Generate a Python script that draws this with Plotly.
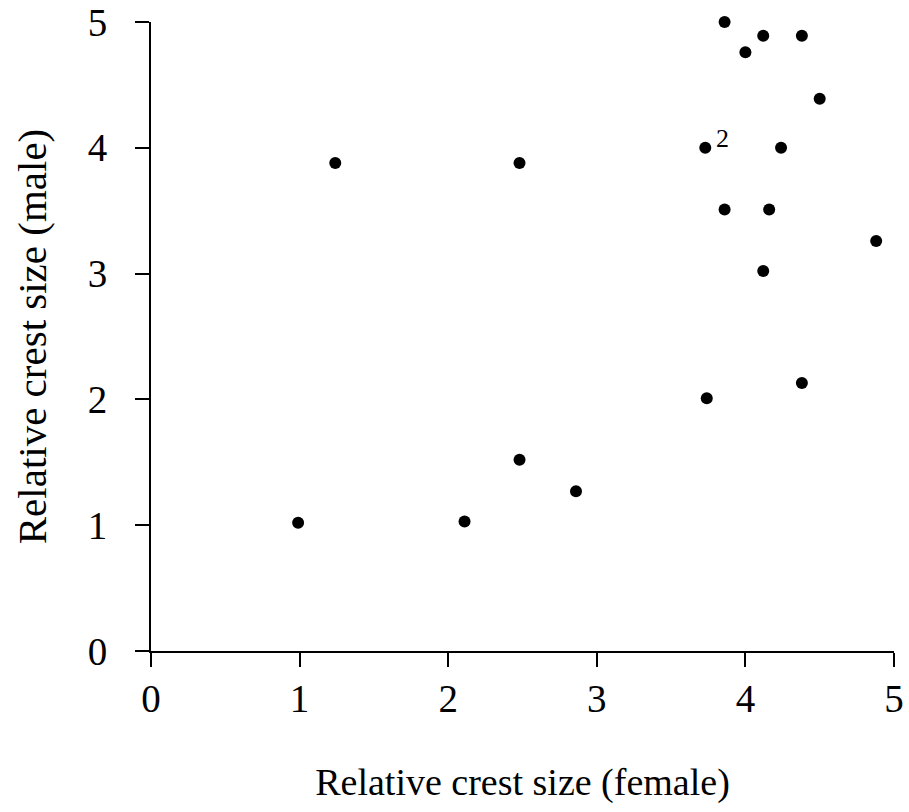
import plotly.graph_objects as go

female = [3.86, 4.12, 4.38, 4.00, 4.50, 3.73, 4.24, 3.86, 4.16, 4.88, 4.12,
          3.74, 4.38, 1.24, 2.48, 0.99, 2.11, 2.48, 2.86]
male = [5.00, 4.89, 4.89, 4.76, 4.39, 4.00, 4.00, 3.51, 3.51, 3.26, 3.02,
        2.01, 2.13, 3.88, 3.88, 1.02, 1.03, 1.52, 1.27]
tick_vals = [0, 1, 2, 3, 4, 5]
label_point = (3.73, 4.00)
label_text = "2"

font_family = "Liberation Serif, Times New Roman, serif"

fig = go.Figure()
fig.add_trace(go.Scatter(
    x=female, y=male, mode="markers",
    marker=dict(color="black", size=12),
    cliponaxis=False, showlegend=False,
))

fig.add_annotation(
    x=label_point[0], y=label_point[1], text=label_text, showarrow=False,
    xshift=17, yshift=9, font=dict(family=font_family, size=26, color="black"),
)

axis_common = dict(
    range=[0, 5], tickvals=tick_vals, showgrid=False, zeroline=False,
    showline=True, linecolor="black", linewidth=2, automargin=False,
    ticks="outside", ticklen=14, tickwidth=2, tickcolor="black",
    tickfont=dict(family=font_family, size=39, color="black"),
)

fig.update_xaxes(**axis_common, title_text="Relative crest size (female)",
                 title_font=dict(family=font_family, size=38, color="black"),
                 title_standoff=50, ticklabelstandoff=-2)
fig.update_yaxes(**axis_common, title_text="Relative crest size (male)",
                 title_font=dict(family=font_family, size=41, color="black"),
                 title_standoff=28, ticklabelstandoff=20)

fig.update_layout(
    width=909, height=812,
    margin=dict(l=151, r=15, t=22, b=161),
    plot_bgcolor="white", paper_bgcolor="white",
    font=dict(family=font_family, color="black"),
)

fig.write_html("out.html")
